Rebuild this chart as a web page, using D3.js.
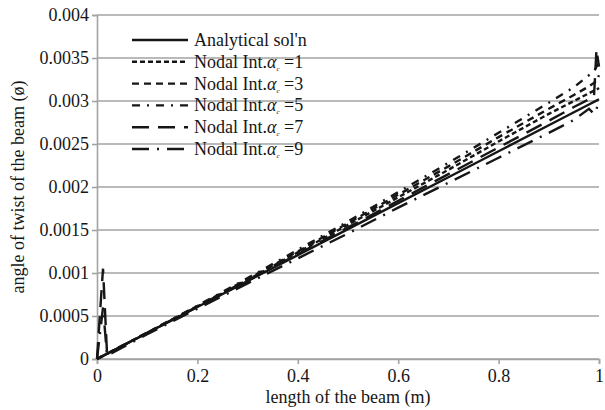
<!DOCTYPE html>
<html>
<head>
<meta charset="utf-8">
<script src="https://cdn.jsdelivr.net/npm/d3@7"></script>
<style>
  html, body { margin: 0; padding: 0; background: #fff; }
  svg { display: block; font-family: "Liberation Serif", "Times New Roman", serif; }
</style>
</head>
<body>
<svg id="chart" width="605" height="410"></svg>
<script>
// Position along the beam (m)
const positions = [0, 0.005, 0.012, 0.02, 0.1, 0.2, 0.3, 0.4, 0.5, 0.6, 0.7, 0.8, 0.9, 0.95, 0.98, 0.99, 0.995, 1];

// Angle of twist for each solution
const analytical = [0, 0.000015, 0.000036, 0.00006, 0.000302, 0.000604, 0.000906, 0.001208, 0.00151, 0.001812, 0.002114, 0.002416, 0.002718, 0.002869, 0.00296, 0.00299, 0.003005, 0.00302];
const nodalA1 = [0, 0.000016, 0.000037, 0.000062, 0.000305, 0.00061, 0.00092, 0.00124, 0.00156, 0.00188, 0.0022, 0.00253, 0.00285, 0.003, 0.00309, 0.00312, 0.00313, 0.00315];
const nodalA3 = [0, 0.000016, 0.000037, 0.000062, 0.000306, 0.000615, 0.00093, 0.00125, 0.00158, 0.00191, 0.00224, 0.00258, 0.00291, 0.00307, 0.00317, 0.00321, 0.00324, 0.0033];
const nodalA5 = [0, 0.000016, 0.000037, 0.000062, 0.000307, 0.00062, 0.00094, 0.00127, 0.0016, 0.00194, 0.00228, 0.00263, 0.00298, 0.00316, 0.0033, 0.00334, 0.0034, 0.00345];
const nodalA7 = [0, 0.00045, 0.00105, 0.00006, 0.000303, 0.000606, 0.00091, 0.00122, 0.00153, 0.00184, 0.00215, 0.00246, 0.00277, 0.00293, 0.00302, 0.00305, 0.0036, 0.0034];
const nodalA9 = [0, 0.00025, 0.0006, 0.00004, 0.000288, 0.000585, 0.00088, 0.00117, 0.00146, 0.00176, 0.00205, 0.00234, 0.00263, 0.00278, 0.00291, 0.00285, 0.0029, 0.00302];

// Legend entries: the α value shown after "Nodal Int."
const alphaValues = ["1", "3", "5", "7", "9"];

// Axis ticks
const xTicks = [0, 0.2, 0.4, 0.6, 0.8, 1];
const yTicks = [0, 0.0005, 0.001, 0.0015, 0.002, 0.0025, 0.003, 0.0035, 0.004];
const yTickLabels = ["0", "0.0005", "0.001", "0.0015", "0.002", "0.0025", "0.003", "0.0035", "0.004"];

const series = [
  { name: "Analytical sol'n", values: analytical, dash: null },
  { alpha: alphaValues[0], values: nodalA1, dash: "5,3" },
  { alpha: alphaValues[1], values: nodalA3, dash: "7,5" },
  { alpha: alphaValues[2], values: nodalA5, dash: "8,7,2,7" },
  { alpha: alphaValues[3], values: nodalA7, dash: "17,9" },
  { alpha: alphaValues[4], values: nodalA9, dash: "17,8,2,8" }
];

const margin = { left: 97, right: 6, top: 15, bottom: 51 };
const W = 605, H = 410;
const svg = d3.select("#chart");

const x = d3.scaleLinear().domain([0, 1]).range([margin.left, W - margin.right]);
const y = d3.scaleLinear().domain([0, 0.004]).range([H - margin.bottom, margin.top]);

const gridColor = "#a3a3a3";
const ink = "#161616";

// Horizontal gridlines
svg.append("g")
  .selectAll("line")
  .data(yTicks)
  .join("line")
  .attr("x1", x(0)).attr("x2", x(1))
  .attr("y1", d => y(d)).attr("y2", d => y(d))
  .attr("stroke", gridColor).attr("stroke-width", 1.6);

// Y axis
const yAxis = svg.append("g")
  .attr("transform", `translate(${x(0)},0)`)
  .call(d3.axisLeft(y).tickValues(yTicks).tickFormat((d, i) => yTickLabels[i]).tickSize(5).tickPadding(3));
yAxis.select(".domain").attr("stroke", gridColor).attr("stroke-width", 1.6);
yAxis.selectAll(".tick line").attr("stroke", gridColor).attr("stroke-width", 1.6);
yAxis.selectAll(".tick text")
  .attr("font-family", "Liberation Serif").attr("font-size", 18).attr("fill", ink);

// X axis
const xAxis = svg.append("g")
  .attr("transform", `translate(0,${y(0)})`)
  .call(d3.axisBottom(x).tickValues(xTicks).tickFormat(d3.format("")).tickSize(5).tickPadding(5));
xAxis.select(".domain").attr("stroke", gridColor).attr("stroke-width", 1.6);
xAxis.selectAll(".tick line").attr("stroke", gridColor).attr("stroke-width", 1.6);
xAxis.selectAll(".tick text")
  .attr("font-family", "Liberation Serif").attr("font-size", 18).attr("fill", ink);

// Axis titles
svg.append("text")
  .attr("x", (x(0) + x(1)) / 2).attr("y", 403)
  .attr("text-anchor", "middle")
  .attr("font-size", 18).attr("fill", ink)
  .text("length of the beam (m)");

svg.append("text")
  .attr("transform", `translate(24,${(y(0) + y(0.004)) / 2}) rotate(-90)`)
  .attr("text-anchor", "middle")
  .attr("font-size", 18).attr("fill", ink)
  .text("angle of twist of the beam (ø)");

// Series lines
const line = d3.line()
  .x((d, i) => x(positions[i]))
  .y(d => y(d));

svg.append("g")
  .selectAll("path")
  .data(series)
  .join("path")
  .attr("d", d => line(d.values))
  .attr("fill", "none")
  .attr("stroke", ink)
  .attr("stroke-width", 2.4)
  .attr("stroke-dasharray", d => d.dash);

// Legend
const legend = svg.append("g");
const rowY = i => 40 + i * 21.8;
series.forEach((s, i) => {
  const yy = rowY(i);
  legend.append("line")
    .attr("x1", 132).attr("x2", 188)
    .attr("y1", yy).attr("y2", yy)
    .attr("stroke", ink).attr("stroke-width", 2.4)
    .attr("stroke-dasharray", s.dash);
  const t = legend.append("text")
    .attr("x", 194).attr("y", yy + 6)
    .attr("font-size", 18).attr("fill", ink);
  if (s.name) {
    t.text(s.name);
  } else {
    t.append("tspan").text("Nodal Int.");
    t.append("tspan").attr("font-style", "italic").text("α");
    t.append("tspan").attr("font-size", 7).attr("dy", 3).attr("font-style", "italic").text("c");
    t.append("tspan").attr("dy", -3).text(" =" + s.alpha);
  }
});
</script>
</body>
</html>
